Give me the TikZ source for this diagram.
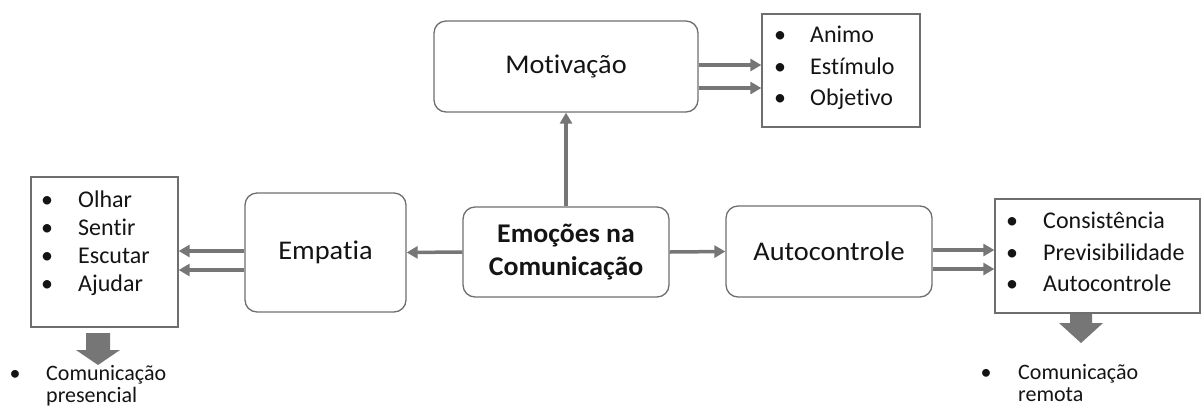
\documentclass[tikz,border=0pt]{standalone}
\usepackage{fontspec}
\setmainfont{Carlito}[Ligatures=NoCommon]
\usetikzlibrary{arrows.meta}
\definecolor{boxgray}{RGB}{110,110,110}
\definecolor{arrgray}{RGB}{118,118,118}
\definecolor{txt}{RGB}{20,20,20}
\newcommand\hstretch[1]{\scalebox{1.05}[1]{#1}}
\begin{document}
\begin{tikzpicture}[x=1pt,y=-1pt,
  rbox/.style={draw=boxgray, line width=1.3pt, rounded corners=12pt, text=txt, align=center, inner sep=0pt},
  lbox/.style={draw=boxgray, line width=1.3pt, inner sep=0pt},
  title/.style={font=\fontsize{27}{33}\selectfont},
  item/.style={font=\fontsize{24}{28}\selectfont, text=txt, anchor=base west, inner sep=0pt},
  bul/.style={font=\fontsize{24}{28}\selectfont, text=txt, anchor=base, inner sep=0pt},
  small/.style={font=\fontsize{22}{26}\selectfont, text=txt, anchor=base west, inner sep=0pt},
  sbul/.style={font=\fontsize{22}{26}\selectfont, text=txt, anchor=base, inner sep=0pt},
  arr/.style={draw=arrgray, line width=3.5pt, -{Triangle[length=11pt,width=12pt]}},
  blockarr/.style={fill=arrgray, draw=none}]
\useasboundingbox (0,0) rectangle (1204,408);
% boxes
\node[rbox, title, minimum width=264pt, minimum height=91pt] (mot) at (566,66.5) {\hstretch{Motivação}};
\node[lbox, minimum width=158pt, minimum height=113pt] (ani) at (841,70.5) {};
\node[rbox, minimum width=206pt, minimum height=90pt, font=\fontsize{27}{33}\selectfont\bfseries] (emo) at (566,252) {\scalebox{1.03}[1]{Emoções na}\\\scalebox{1.03}[1]{Comunicação}};
\node[rbox, title, minimum width=161pt, minimum height=119pt] (emp) at (325.5,252.5) {\hstretch{Empatia}};
\node[lbox, minimum width=147pt, minimum height=150pt] (lst) at (104.5,252) {};
\node[rbox, title, minimum width=206pt, minimum height=91pt] (aut) at (829,251.5) {\hstretch{Autocontrole}};
\node[lbox, minimum width=205pt, minimum height=114pt] (rst) at (1097.5,256) {};
% list texts
\node[bul] (a1b) at (780,42) {•}; \node[item] (a1) at (810,42) {Animo};
\node[bul] (a2b) at (780,74) {•}; \node[item] (a2) at (810,74) {Estímulo};
\node[bul] (a3b) at (780,105) {•}; \node[item] (a3) at (810,105) {Objetivo};
\node[bul] (l1b) at (47,207) {•}; \node[item] (l1) at (78,207) {Olhar};
\node[bul] (l2b) at (47,235) {•}; \node[item] (l2) at (78,235) {Sentir};
\node[bul] (l3b) at (47,263) {•}; \node[item] (l3) at (78,263) {Escutar};
\node[bul] (l4b) at (47,291) {•}; \node[item] (l4) at (78,291) {Ajudar};
\node[bul] (r1b) at (1012,228) {•}; \node[item] (r1) at (1043,228) {Consistência};
\node[bul] (r2b) at (1012,260) {•}; \node[item] (r2) at (1043,260) {Previsibilidade};
\node[bul] (r3b) at (1012,291) {•}; \node[item] (r3) at (1043,291) {Autocontrole};
% bottom notes
\node[sbul] (p0) at (15,380) {•};
\node[small] (p1) at (46,380) {Comunicação};
\node[small] (p2) at (46,402) {presencial};
\node[sbul] (q0) at (986,379) {•};
\node[small] (q1) at (1018,379) {Comunicação};
\node[small] (q2) at (1018,401) {remota};
% connectors
\draw[arr] (emo.north) -- (mot.south);
\draw[arr] (emo.west) -- (emp.east);
\draw[arr] (emo.east) -- (aut.west);
\draw[arr] (mot.east |- 0,65) -- (ani.west |- 0,65);
\draw[arr] (mot.east |- 0,88) -- (ani.west |- 0,88);
\draw[arr] (emp.west |- 0,251) -- (lst.east |- 0,251);
\draw[arr] (emp.west |- 0,270) -- (lst.east |- 0,270);
\draw[arr] (aut.east |- 0,250) -- (rst.west |- 0,250);
\draw[arr] (aut.east |- 0,269) -- (rst.west |- 0,269);
% block arrows
\fill[blockarr] (86,333) -- (110,333) -- (110,350) -- (120,350) -- (98,365) -- (76,350) -- (86,350) -- cycle;
\fill[blockarr] (1070,314) -- (1092,314) -- (1092,323) -- (1103,323) -- (1081,343) -- (1059,323) -- (1070,323) -- cycle;
\end{tikzpicture}
\end{document}
